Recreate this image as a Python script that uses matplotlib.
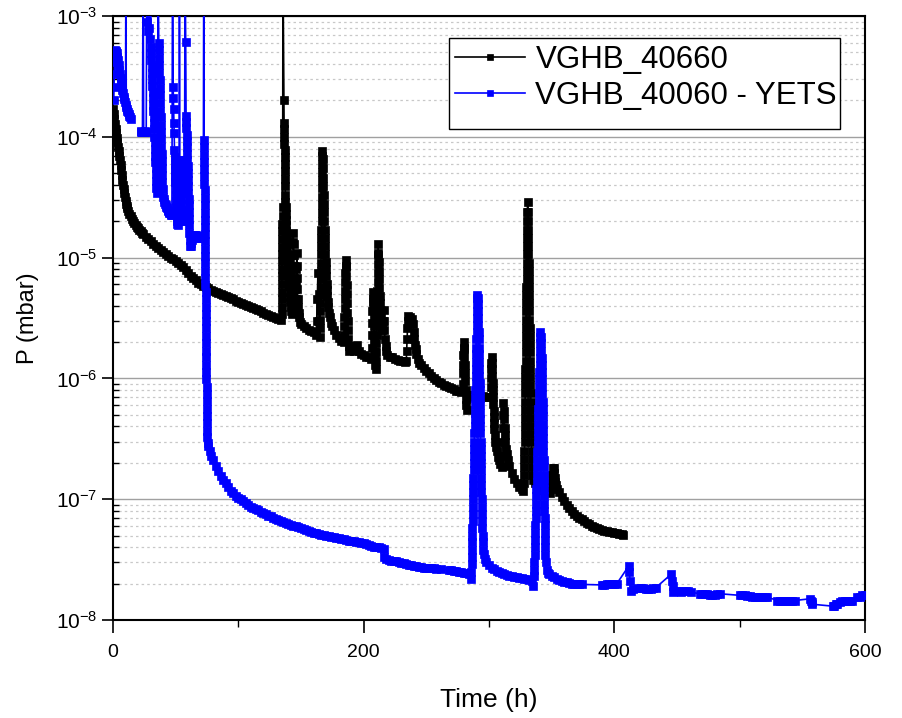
import numpy as np
import matplotlib
matplotlib.use("Agg")
import matplotlib.pyplot as plt
from matplotlib.patches import Rectangle
from matplotlib.ticker import LogLocator, FixedLocator, NullFormatter

plt.rcParams['font.family'] = ['Liberation Sans', 'DejaVu Sans']
plt.rcParams['mathtext.default'] = 'regular'

OFF = 3e-3   # readings above the plotted range (line leaves the chart)
NAN = np.nan # gap in the record

# ================= VGHB_40660 (black) =================
black_t_decay = [0, 0.5, 1, 1.5, 2, 2.5, 3, 3.5, 4, 4.5, 5, 5.5, 6, 6.5, 7, 7.5, 8, 8.5, 9, 9.5, 10, 10.5,
                 11, 11.5, 12, 13, 14, 15, 16, 17, 18, 19, 20, 21, 22, 23, 24, 26, 28, 30, 32, 34, 36, 38,
                 40, 42, 44, 46, 48, 50, 52, 54, 56, 58, 60, 62, 64, 66, 68, 70, 72, 74, 76, 78, 80, 82,
                 84, 86, 88, 90, 92, 94, 96, 98, 100, 102, 104, 106, 108, 110, 112, 114, 116, 118, 120,
                 122, 124, 126, 128, 130, 132, 134]
black_p_decay = [1.7e-4, 1.55e-4, 1.4e-4, 1.28e-4, 1.17e-4, 1.07e-4, 9.8e-5, 9e-5, 8.3e-5, 7.6e-5, 7e-5,
                 6.4e-5, 5.8e-5, 5.3e-5, 4.8e-5, 4.4e-5, 4e-5, 3.7e-5, 3.4e-5, 3.15e-5, 2.95e-5, 2.8e-5,
                 2.65e-5, 2.55e-5, 2.45e-5, 2.3e-5, 2.2e-5, 2.1e-5, 2.0e-5, 1.93e-5, 1.87e-5, 1.8e-5,
                 1.75e-5, 1.7e-5, 1.65e-5, 1.6e-5, 1.56e-5, 1.49e-5, 1.42e-5, 1.36e-5, 1.3e-5, 1.25e-5,
                 1.2e-5, 1.15e-5, 1.11e-5, 1.07e-5, 1.03e-5, 1.0e-5, 9.7e-6, 9.4e-6, 9.1e-6, 8.7e-6,
                 8.3e-6, 7.9e-6, 7.5e-6, 7.1e-6, 6.8e-6, 6.5e-6, 6.2e-6, 6.0e-6, 5.85e-6, 5.7e-6, 5.55e-6,
                 5.4e-6, 5.3e-6, 5.2e-6, 5.1e-6, 5.0e-6, 4.9e-6, 4.8e-6, 4.7e-6, 4.6e-6, 4.5e-6, 4.4e-6,
                 4.3e-6, 4.2e-6, 4.12e-6, 4.05e-6, 3.97e-6, 3.9e-6, 3.82e-6, 3.74e-6, 3.66e-6, 3.58e-6,
                 3.5e-6, 3.43e-6, 3.36e-6, 3.3e-6, 3.24e-6, 3.18e-6, 3.12e-6, 3.07e-6]

black_t_s1 = [134.50, 134.56, 134.62, 134.68, 134.74, 134.80, 134.86, 134.92, 134.98, 135.04, 135.10, 135.16,
              135.22, 135.28, 135.34, 135.6,
              136.3, 136.5, 136.6, 136.7, 136.8, 136.9, 137.0, 137.1, 137.2, 137.3, 137.4, 137.5,
              137.6, 137.75, 137.9, 138.05, 138.2, 138.4, 138.6, 138.8, 139.0, 139.2, 139.4, 139.6, 139.8,
              140.0, 140.3, 140.6, 140.9, 141.2, 141.5, 141.8, 142.2, 142.6,
              142.9, 143.1, 143.3, 143.5, 143.7, 143.9, 144.1, 144.3, 144.5, 144.7, 144.9, 145.1, 145.4,
              145.7, 146.0, 146.2, 146.4, 146.6, 146.8, 147.0, 147.2, 147.5, 147.8, 148.1, 148.5, 149,
              150, 152, 154, 156, 158, 160, 162]
black_p_s1 = [3.4e-6, 3.9e-6, 4.5e-6, 5.2e-6, 6e-6, 7e-6, 8e-6, 9.3e-6, 1.07e-5, 1.23e-5, 1.42e-5, 1.65e-5,
              1.9e-5, 2.2e-5, 2.6e-5, OFF,
              2e-4, 1.3e-4, 1.15e-4, 1.0e-4, 8.8e-5, 7.8e-5, 6.8e-5, 6e-5, 5.2e-5, 4.5e-5, 3.9e-5, 3.3e-5,
              2.9e-5, 2.6e-5, 2.3e-5, 2.05e-5, 1.85e-5, 1.65e-5, 1.5e-5, 1.35e-5, 1.2e-5, 1.08e-5, 9.8e-6,
              8.8e-6, 8e-6, 7.2e-6, 6.4e-6, 5.8e-6, 5.2e-6, 4.7e-6, 4.3e-6, 3.9e-6, 3.6e-6, 3.4e-6,
              4.5e-6, 6e-6, 8e-6, 1.05e-5, 1.35e-5, 1.6e-5, 1.3e-5, 1.05e-5, 8.5e-6, 6.8e-6, 5.5e-6, 4.5e-6,
              3.8e-6, 3.5e-6, 4.5e-6, 6e-6, 8e-6, 1.1e-5, 8.5e-6, 6.8e-6, 5.5e-6, 4.5e-6, 3.9e-6, 3.5e-6,
              3.2e-6, 2.95e-6, 2.8e-6, 2.7e-6, 2.6e-6, 2.5e-6, 2.45e-6, 2.4e-6, 2.3e-6]

black_t_s2 = [162.5, 163, 163.5, 164, 164.5,
              165.0, 165.1, 165.2, 165.3, 165.4, 165.5, 165.6, 165.7, 165.8, 165.9, 166.0, 166.1, 166.2,
              166.3, 166.4, 166.5, 166.6, 166.7, 166.8, 166.85, 166.9, 166.95, 167.0, 167.1,
              167.3, 167.5, 167.7, 167.9, 168.1, 168.3, 168.5, 168.7, 168.9, 169.1, 169.3, 169.5, 169.7,
              169.9, 170.1, 170.4, 170.7, 171.0, 171.4, 171.8, 172.3, 173, 174, 175, 176, 178, 180, 182, 184,
              184.2, 184.4, 184.6, 184.8, 185.0, 185.15, 185.3, 185.45, 185.6, 185.75, 185.95, 186.15, 186.35,
              186.55, 186.75, 186.95, 187.15, 187.4, 187.7, 188, 188.5, 190, 192, 194, 195, 196, 198, 200,
              202, 204, 206]
black_p_s2 = [3e-6, 4.5e-6, 7.5e-6, 5e-6, 3e-6,
              2.2e-6, 2.6e-6, 3.05e-6, 3.6e-6, 4.2e-6, 4.9e-6, 5.7e-6, 6.7e-6, 7.8e-6, 9.1e-6, 1.07e-5,
              1.25e-5, 1.46e-5, 1.7e-5, 2e-5, 2.35e-5, 2.75e-5, 3.2e-5, 3.75e-5, 4.4e-5, 5.1e-5, 6e-5,
              7e-5, 7.7e-5,
              6.5e-5, 5.5e-5, 4.6e-5, 3.9e-5, 3.3e-5, 2.8e-5, 2.4e-5, 2e-5, 1.7e-5, 1.45e-5, 1.25e-5,
              1.07e-5, 9.2e-6, 8e-6, 7e-6, 6.1e-6, 5.4e-6, 4.8e-6, 4.3e-6, 3.9e-6, 3.5e-6, 3.2e-6, 2.9e-6,
              2.7e-6, 2.5e-6, 2.3e-6, 2.15e-6, 2.05e-6, 2e-6,
              2.3e-6, 2.7e-6, 3.2e-6, 3.8e-6, 4.5e-6, 5.3e-6, 6.3e-6, 7.5e-6, 8.6e-6, 9.5e-6, 8.3e-6, 7e-6,
              5.9e-6, 5e-6, 4.2e-6, 3.5e-6, 3e-6, 2.5e-6, 2.1e-6, 1.85e-6, 1.7e-6, 1.75e-6, 1.7e-6, 1.85e-6,
              1.9e-6, 1.7e-6, 1.6e-6, 1.55e-6, 1.5e-6, 1.5e-6, 1.45e-6]

black_t_s3 = [206.3, 206.5, 206.7, 206.9, 207.1, 207.3, 207.5, 207.7, 207.9, 208.1, 208.3, 208.5, 208.7, 208.9,
              209.2, 209.5, 209.7, 209.9, 210.1, 210.3, 210.45, 210.6, 210.75, 210.9, 211.0, 211.1, 211.2,
              211.3, 211.4, 211.5, 211.7, 211.9, 212.1, 212.3, 212.5, 212.7, 212.9, 213.2, 213.6, 214,
              214.5, 215, 215.5, 216, 216.3, 216.6, 217, 217.5, 218, 219, 221, 223, 225, 227, 229, 231, 233,
              234, 234.3, 234.6, 234.9, 235.2, 235.5, 237, 238.5, 239.3, 240, 240.5, 241, 241.5, 242, 243,
              244, 246, 248, 250, 252, 254, 256, 258, 260, 262, 264, 266, 268, 270, 272, 274, 276, 278]
black_p_s3 = [1.8e-6, 2.3e-6, 2.9e-6, 3.6e-6, 4.4e-6, 5.2e-6, 4.5e-6, 3.8e-6, 3.2e-6, 2.7e-6, 2.3e-6, 2e-6,
              1.7e-6, 1.5e-6, 1.3e-6, 1.2e-6, 1.4e-6, 1.65e-6, 1.95e-6, 2.3e-6, 2.7e-6, 3.2e-6, 3.8e-6,
              4.5e-6, 5.3e-6, 6.3e-6, 7.5e-6, 8.9e-6, 1.06e-5, 1.3e-5, 1.1e-5, 9.2e-6, 7.8e-6, 6.6e-6,
              5.6e-6, 4.8e-6, 4.2e-6, 3.7e-6, 3.2e-6, 2.9e-6, 2.6e-6, 2.5e-6, 3e-6, 3.7e-6, 3e-6, 2.5e-6,
              2.1e-6, 1.85e-6, 1.7e-6, 1.55e-6, 1.5e-6, 1.5e-6, 1.45e-6, 1.42e-6, 1.4e-6, 1.4e-6, 1.38e-6,
              1.4e-6, 1.7e-6, 2.1e-6, 2.6e-6, 3e-6, 3.3e-6, 3.2e-6, 3.1e-6, 2.8e-6, 2.4e-6, 2.1e-6, 1.9e-6,
              1.75e-6, 1.6e-6, 1.45e-6, 1.35e-6, 1.28e-6, 1.22e-6, 1.16e-6, 1.1e-6, 1.05e-6, 1.0e-6,
              9.7e-7, 9.4e-7, 9.1e-7, 8.9e-7, 8.7e-7, 8.5e-7, 8.3e-7, 8.1e-7, 7.9e-7, 7.8e-7, 7.7e-7]

black_t_s4 = [279.0, 279.2, 279.4, 279.6, 279.8, 280, 280.2, 280.4, 280.6, 280.8, 281, 281.3, 281.6, 282,
              282.5, 283, 285, 287, 289, 291, 293, 295, 297, 299, 301, 301.2, 301.4, 301.6, 301.8, 302,
              302.2, 302.4, 302.6, 302.8, 303, 303.2, 303.4, 303.6, 303.8, 304, 304.3, 304.6, 305, 305.5,
              306, 307, 308, 309, 310, 310.3, 310.6, 310.9, 311.2, 311.5, 311.8, 312.1, 312.4, 312.7, 313,
              313.5, 314, 315, 316, 318, 320, 322, 324, 326, 327.5]
black_p_s4 = [9e-7, 1.1e-6, 1.3e-6, 1.55e-6, 1.8e-6, 2e-6, 1.75e-6, 1.5e-6, 1.3e-6, 1.1e-6, 9.5e-7, 8e-7,
              6.8e-7, 6e-7, 5.5e-7, 7e-7, 7.3e-7, 7.3e-7, 7.2e-7, 7.2e-7, 7.1e-7, 7.1e-7, 7e-7, 7e-7, 7e-7,
              8.5e-7, 1e-6, 1.2e-6, 1.35e-6, 1.5e-6, 1.35e-6, 1.2e-6, 1.05e-6, 9.2e-7, 8e-7, 7e-7, 6.1e-7,
              5.4e-7, 4.8e-7, 4.3e-7, 3.8e-7, 3.4e-7, 3e-7, 2.7e-7, 2.5e-7, 2.25e-7, 2.1e-7, 1.95e-7,
              1.85e-7, 2.3e-7, 3e-7, 3.9e-7, 5e-7, 6.3e-7, 5.4e-7, 4.6e-7, 3.9e-7, 3.4e-7, 3e-7, 2.6e-7,
              2.35e-7, 2.1e-7, 1.9e-7, 1.65e-7, 1.47e-7, 1.35e-7, 1.27e-7, 1.21e-7, 1.18e-7]

black_t_s5 = [328.0, 328.08, 328.16, 328.24, 328.32, 328.4, 328.48, 328.56, 328.64, 328.72, 328.8, 328.88,
              328.96, 329.04, 329.12, 329.2, 329.28, 329.36, 329.44, 329.52, 329.6, 329.68, 329.76, 329.84,
              329.92, 330.0, 330.08, 330.16, 330.24, 330.32, 330.4, 330.5, 330.6, 330.7, 330.8,
              331.0, 331.1, 331.2, 331.3, 331.4, 331.5, 331.6, 331.7, 331.8, 331.9, 332.0, 332.1, 332.2,
              332.3, 332.4, 332.5, 332.6, 332.7, 332.8, 332.9, 333.0, 333.1, 333.2, 333.3, 333.4, 333.5,
              333.6, 333.7, 333.8, 333.95, 334.1, 334.3, 334.6,
              335.5, 337, 339, 341, 343, 345, 347, 349, 349.5, 350, 350.5, 351, 351.5, 352, 352.5, 353,
              353.5, 354.5, 356, 358, 360, 362, 364, 366, 368, 370, 372, 374, 376, 378, 380, 382, 384, 386,
              388, 390, 392, 394, 396, 398, 400, 402, 404, 406, 407]
black_p_s5 = [1.35e-7, 1.58e-7, 1.85e-7, 2.15e-7, 2.5e-7, 2.95e-7, 3.45e-7, 4e-7, 4.7e-7, 5.5e-7, 6.4e-7,
              7.5e-7, 8.8e-7, 1.03e-6, 1.2e-6, 1.4e-6, 1.65e-6, 1.92e-6, 2.25e-6, 2.6e-6, 3.05e-6, 3.6e-6,
              4.2e-6, 4.9e-6, 5.7e-6, 6.7e-6, 7.8e-6, 9.1e-6, 1.07e-5, 1.25e-5, 1.46e-5, 1.7e-5, 2e-5,
              2.4e-5, 2.9e-5,
              2.4e-5, 2e-5, 1.7e-5, 1.46e-5, 1.25e-5, 1.07e-5, 9.1e-6, 7.8e-6, 6.7e-6, 5.7e-6, 4.9e-6,
              4.2e-6, 3.6e-6, 3.05e-6, 2.6e-6, 2.25e-6, 1.92e-6, 1.65e-6, 1.4e-6, 1.2e-6, 1.03e-6, 8.8e-7,
              7.5e-7, 6.4e-7, 5.5e-7, 4.7e-7, 4e-7, 3.45e-7, 2.95e-7, 2.5e-7, 2.15e-7, 1.85e-7, 1.58e-7,
              1.45e-7, 1.35e-7, 1.28e-7, 1.24e-7, 1.2e-7, 1.17e-7, 1.15e-7, 1.13e-7, 1.25e-7, 1.4e-7,
              1.6e-7, 1.8e-7, 1.8e-7, 1.65e-7, 1.5e-7, 1.4e-7, 1.3e-7, 1.22e-7, 1.15e-7, 1.05e-7, 9.6e-8,
              8.9e-8, 8.4e-8, 8e-8, 7.6e-8, 7.3e-8, 7e-8, 6.8e-8, 6.6e-8, 6.4e-8, 6.2e-8, 6.05e-8, 5.9e-8,
              5.8e-8, 5.7e-8, 5.6e-8, 5.5e-8, 5.45e-8, 5.4e-8, 5.35e-8, 5.3e-8, 5.25e-8, 5.2e-8, 5.15e-8,
              5.1e-8]

# ================= VGHB_40060 - YETS (blue) =================
blue_t_start = [0.6, 0.8, 1.0, 1.2, 1.4, 2, 2.5, 3, 3.5, 4, 4.5, 5, 5.5, 6, 6.5, 7, 7.5, 8, 8.5, 9, 9.5, 10,
                10.3, 10.6, 11, 11.5, 12, 12.5, 13, 13.5, 14, 15]
blue_p_start = [2e-4, 2.6e-4, 3.3e-4, 4.2e-4, 5.2e-4, 5.1e-4, 5e-4, 4.9e-4, 4.6e-4, 4.3e-4, 3.9e-4, 3.6e-4,
                3.3e-4, 3.05e-4, 2.8e-4, 2.6e-4, 2.45e-4, 2.3e-4, 2.15e-4, 2.05e-4, 1.95e-4, 1.85e-4, OFF,
                1.75e-4, 1.7e-4, 1.65e-4, 1.6e-4, 1.55e-4, 1.5e-4, 1.45e-4, 1.4e-4, NAN]

blue_t_burst_a = [22, 22.5, 23, 23.5, 24, 24.5, 25, 25.5, 26, 26.5, 27, 27.5, 28, 28.5, 29, 29.5, 30]
blue_p_burst_a = [1.12e-4, 1.1e-4, 1.1e-4, 1.1e-4, OFF, 1.1e-4, 1.1e-4, 1.12e-4, 1.1e-4, 1.1e-4, OFF, 9e-4,
                  7.5e-4, OFF, 8e-4, 6.5e-4, OFF]

blue_t_burst_b = [30.3, 30.5, 30.7, 30.9, 31.1, 31.3, 31.5, 31.7, 31.9, 32.1, 32.3, 32.5, 32.7, 32.9, 33.1,
                  33.3, 33.5, 33.7, 33.9, 34.1, 34.3, 34.5, 34.7, 35.0, 35.5, 36.0]
blue_p_burst_b = [5.5e-4, 4.9e-4, 4.3e-4, 3.8e-4, 3.4e-4, 3e-4, 2.65e-4, 2.35e-4, 2.1e-4, 1.85e-4, 1.65e-4,
                  1.45e-4, 1.3e-4, 1.15e-4, 1e-4, 9e-5, 8e-5, 7e-5, 6.2e-5, 5.5e-5, 4.9e-5, 4.3e-5, 3.8e-5,
                  3.4e-5, 1.2e-4, OFF]

blue_t_burst_c = [36.5, 36.65, 36.8, 36.95, 37.1, 37.25, 37.4, 37.55, 37.7, 37.85, 38.0, 38.15, 38.3, 38.45,
                  38.6, 38.75, 38.9, 39.05, 39.2, 39.4, 39.7, 40.0, 40.5, 41, 41.5, 42, 42.5, 43, 43.5, 44,
                  44.5, 45, 45.5, 46, 46.5, 47, 47.5]
blue_p_burst_c = [6e-4, 5.2e-4, 4.5e-4, 3.9e-4, 3.4e-4, 2.95e-4, 2.55e-4, 2.2e-4, 1.9e-4, 1.65e-4, 1.45e-4,
                  1.25e-4, 1.1e-4, 9.5e-5, 8.3e-5, 7.2e-5, 6.3e-5, 5.5e-5, 4.8e-5, 4.2e-5, 3.7e-5, 3.2e-5,
                  3.05e-5, 2.9e-5, 2.8e-5, 2.7e-5, 2.62e-5, 2.55e-5, 2.5e-5, 2.45e-5, 2.4e-5, 2.35e-5,
                  2.32e-5, 2.3e-5, 2.27e-5, 2.25e-5, OFF]

blue_t_burst_d = [48.0, 48.2, 48.4, 48.6, 48.8, 49.0, 49.15, 49.3, 49.45, 49.6, 49.75, 49.9, 50.05, 50.2,
                  50.4, 50.6, 50.8, 51.0, 51.3, 51.6,
                  51.9, 52.0, 52.1, 52.2, 52.35, 52.5, 52.65, 52.8, 53.0,
                  53.3, 53.45, 53.6, 53.75, 53.9, 54.05, 54.2, 54.4, 54.6, 54.8, 55.2, 55.6, 56.2, 57, 57.5]
blue_p_burst_d = [2.6e-4, 2.1e-4, 1.7e-4, 1.3e-4, 1.07e-4, 7.8e-5, 6.8e-5, 6e-5, 5.3e-5, 4.7e-5, 4.2e-5,
                  3.7e-5, 3.3e-5, 2.95e-5, 2.6e-5, 2.35e-5, 2.15e-5, 2e-5, 1.9e-5, 1.85e-5,
                  2.1e-5, 2.5e-5, 2.9e-5, 3.4e-5, 4e-5, 4.7e-5, 5.5e-5, 6.4e-5, OFF,
                  6.4e-5, 5.6e-5, 5e-5, 4.4e-5, 3.9e-5, 3.5e-5, 3.1e-5, 2.8e-5, 2.5e-5, 2.3e-5, 2.15e-5,
                  2.05e-5, 2e-5, 2e-5, OFF]

blue_t_burst_e = [58.0, 58.3, 58.45, 58.6, 58.75, 58.9, 59.05, 59.2, 59.35, 59.5, 59.65, 59.8, 59.95, 60.1,
                  60.25, 60.4, 60.55, 60.7, 60.85, 61.0, 61.2, 61.5,
                  62, 62.5, 63, 63.5, 64, 64.5, 65, 65.5, 66, 66.5, 67, 67.5, 68, 68.5, 69, 69.5, 70, 70.5,
                  71, 71.5, 72, 72.4]
blue_p_burst_e = [6.1e-4, 1.5e-4, 1.33e-4, 1.18e-4, 1.04e-4, 9.2e-5, 8.2e-5, 7.2e-5, 6.4e-5, 5.7e-5, 5e-5,
                  4.4e-5, 3.9e-5, 3.45e-5, 3.05e-5, 2.7e-5, 2.4e-5, 2.1e-5, 1.85e-5, 1.6e-5, 1.4e-5, 1.25e-5,
                  1.25e-5, 1.32e-5, 1.4e-5, 1.45e-5, 1.5e-5, 1.52e-5, 1.55e-5, 1.55e-5, 1.55e-5, 1.52e-5,
                  1.5e-5, 1.5e-5, 1.5e-5, 1.48e-5, 1.45e-5, 1.45e-5, 1.45e-5, 1.45e-5, 1.45e-5, 1.45e-5,
                  1.45e-5, OFF]

blue_t_drop = [72.60, 72.66, 72.72, 72.78, 72.84, 72.90, 72.96, 73.02, 73.08, 73.14, 73.20, 73.26, 73.32,
               73.38, 73.44, 73.50, 73.56, 73.62, 73.68, 73.74, 73.80, 73.86, 73.92, 73.98, 74.04, 74.10,
               74.16, 74.22, 74.28, 74.34, 74.40, 74.46, 74.52, 74.58, 74.64, 74.70, 74.78, 74.86, 74.94,
               75.02, 75.12, 75.24, 75.4,
               76, 77, 78, 80, 82, 84, 86, 88, 90, 92, 94,
               96, 98, 100, 102, 104, 106, 108, 110, 112, 114, 116, 118, 120, 122, 124, 126, 128, 130, 132,
               134, 136, 138, 140, 142, 144, 146, 148, 150, 152, 154, 156, 158, 160, 162, 164, 166, 168,
               170, 172, 174, 176, 178, 180, 182, 184, 186, 188, 190, 192, 194, 196, 198, 200, 202, 204,
               206, 208, 210, 212, 214, 216, 216.5, 218, 220, 222, 224, 226, 228, 230, 232, 234, 236, 238,
               240, 242, 244, 246, 248, 250, 252, 254, 256, 258, 262, 268, 270, 272, 274, 276, 278, 280,
               282, 284, 285.5]
blue_p_drop = [9.4e-5, 8.2e-5, 7.1e-5, 6.2e-5, 5.4e-5, 4.7e-5, 4.1e-5, 3.6e-5, 3.1e-5, 2.7e-5, 2.35e-5,
               2.05e-5, 1.8e-5, 1.56e-5, 1.36e-5, 1.18e-5, 1.03e-5, 9e-6, 7.8e-6, 6.8e-6, 5.9e-6, 5.2e-6,
               4.5e-6, 3.9e-6, 3.4e-6, 3e-6, 2.6e-6, 2.25e-6, 1.96e-6, 1.7e-6, 1.5e-6, 1.3e-6, 1.13e-6,
               9.8e-7, 8.5e-7, 7.4e-7, 6.5e-7, 5.6e-7, 4.9e-7, 4.3e-7, 3.7e-7, 3.3e-7, 2.9e-7,
               2.75e-7, 2.5e-7, 2.3e-7, 2.1e-7, 1.9e-7, 1.7e-7, 1.55e-7, 1.45e-7, 1.35e-7, 1.25e-7,
               1.17e-7, 1.12e-7, 1.07e-7, 1.03e-7, 1e-7, 9.7e-8, 9.3e-8, 9e-8, 8.7e-8, 8.5e-8, 8.3e-8,
               8.1e-8, 7.9e-8, 7.7e-8, 7.5e-8, 7.3e-8, 7.2e-8, 7.05e-8, 6.9e-8, 6.75e-8, 6.6e-8, 6.5e-8,
               6.4e-8, 6.25e-8, 6.15e-8, 6.05e-8, 5.95e-8, 5.85e-8, 5.75e-8, 5.65e-8, 5.55e-8, 5.45e-8,
               5.4e-8, 5.3e-8, 5.25e-8, 5.15e-8, 5.1e-8, 5.05e-8, 5e-8, 4.95e-8, 4.9e-8, 4.85e-8, 4.8e-8,
               4.75e-8, 4.7e-8, 4.65e-8, 4.6e-8, 4.55e-8, 4.5e-8, 4.47e-8, 4.43e-8, 4.4e-8, 4.38e-8,
               4.35e-8, 4.25e-8, 4.15e-8, 4.1e-8, 4.05e-8, 4.0e-8, 4.0e-8, 3.95e-8, 3.9e-8, 3.3e-8, 3.2e-8,
               3.15e-8, 3.1e-8, 3.1e-8, 3.05e-8, 3.0e-8, 2.98e-8, 2.95e-8, 2.9e-8, 2.87e-8, 2.84e-8, 2.8e-8,
               2.78e-8, 2.75e-8, 2.73e-8, 2.71e-8, 2.7e-8, 2.69e-8, 2.68e-8, 2.67e-8, 2.66e-8, 2.64e-8,
               2.6e-8, 2.58e-8, 2.55e-8, 2.53e-8, 2.5e-8, 2.48e-8, 2.46e-8, 2.44e-8, 2.4e-8, 2.2e-8]

blue_t_peak1 = [286.0, 286.12, 286.25, 286.37, 286.5, 286.62, 286.75, 286.87, 287.0, 287.12, 287.25, 287.37,
                287.5, 287.62, 287.75, 287.87, 288.0, 288.12, 288.25, 288.37, 288.5, 288.62, 288.75, 288.87,
                289.0, 289.12, 289.25, 289.37, 289.5, 289.62, 289.75, 289.87, 290.0, 290.12, 290.25, 290.37,
                290.5, 290.62, 290.72, 290.82,
                291.0, 291.15, 291.3, 291.45, 291.6, 291.75, 291.9, 292.0, 292.1, 292.2, 292.3, 292.4, 292.5,
                292.6, 292.7, 292.8, 292.9, 293.0, 293.1, 293.2, 293.3, 293.4, 293.5, 293.6, 293.7, 293.8,
                293.9, 294.0, 294.1, 294.2, 294.35, 294.5, 294.7, 294.9, 295.2, 295.6,
                296, 297, 298, 300, 302, 304, 306, 308, 310, 312, 314, 316, 318, 320, 322, 324, 326, 328,
                330, 332, 334, 335.5]
blue_p_peak1 = [2.5e-8, 2.9e-8, 3.3e-8, 3.8e-8, 4.4e-8, 5e-8, 5.8e-8, 6.6e-8, 7.6e-8, 8.7e-8, 1e-7, 1.15e-7,
                1.32e-7, 1.5e-7, 1.75e-7, 2e-7, 2.3e-7, 2.6e-7, 3e-7, 3.5e-7, 4e-7, 4.6e-7, 5.2e-7, 6e-7,
                6.9e-7, 8e-7, 9.1e-7, 1.05e-6, 1.2e-6, 1.38e-6, 1.58e-6, 1.8e-6, 2.1e-6, 2.4e-6, 2.75e-6,
                3.15e-6, 3.6e-6, 4.1e-6, 4.6e-6, 4.9e-6,
                4.6e-6, 4.1e-6, 3.6e-6, 3.15e-6, 2.75e-6, 2.4e-6, 2.1e-6, 1.8e-6, 1.58e-6, 1.38e-6, 1.2e-6,
                1.05e-6, 9.1e-7, 8e-7, 6.9e-7, 6e-7, 5.2e-7, 4.6e-7, 4e-7, 3.5e-7, 3e-7, 2.6e-7, 2.3e-7, 2e-7,
                1.75e-7, 1.5e-7, 1.32e-7, 1.15e-7, 1e-7, 8.7e-8, 7.6e-8, 6.6e-8, 5.8e-8, 5e-8, 4.4e-8, 3.8e-8,
                3.5e-8, 3.2e-8, 3e-8, 2.85e-8, 2.72e-8, 2.62e-8, 2.55e-8, 2.5e-8, 2.45e-8, 2.4e-8, 2.37e-8,
                2.33e-8, 2.3e-8, 2.27e-8, 2.25e-8, 2.23e-8, 2.21e-8, 2.2e-8, 2.18e-8, 2.15e-8, 2.1e-8, 1.9e-8]

blue_t_peak2 = [336.0, 336.15, 336.3, 336.45, 336.6, 336.75, 336.9, 337.05, 337.2, 337.35, 337.5, 337.65,
                337.8, 337.95, 338.1, 338.25, 338.4, 338.55, 338.7, 338.85, 339.0, 339.15, 339.3, 339.45,
                339.6, 339.75, 339.9, 340.05, 340.2, 340.35, 340.5, 340.6, 340.7, 340.8, 341.0,
                341.3, 341.5, 341.7, 341.9, 342.05, 342.2, 342.35, 342.5, 342.6, 342.7, 342.8, 342.9, 343.0,
                343.1, 343.2, 343.3, 343.4, 343.5, 343.6, 343.7, 343.8, 343.9, 344.0, 344.1, 344.2, 344.3,
                344.4, 344.55, 344.7, 344.85, 345.0, 345.3,
                346, 347, 348, 350, 352, 354, 356, 358, 360, 362, 364, 366, 368, 370, 372, 374]
blue_p_peak2 = [2.3e-8, 2.6e-8, 3e-8, 3.45e-8, 4e-8, 4.6e-8, 5.3e-8, 6.1e-8, 7e-8, 8e-8, 9.2e-8, 1.06e-7,
                1.22e-7, 1.4e-7, 1.6e-7, 1.85e-7, 2.1e-7, 2.45e-7, 2.8e-7, 3.2e-7, 3.7e-7, 4.2e-7, 4.9e-7,
                5.6e-7, 6.4e-7, 7.4e-7, 8.5e-7, 9.8e-7, 1.12e-6, 1.3e-6, 1.48e-6, 1.7e-6, 1.95e-6, 2.2e-6,
                2.4e-6,
                2.2e-6, 1.95e-6, 1.7e-6, 1.48e-6, 1.3e-6, 1.12e-6, 9.8e-7, 8.5e-7, 7.4e-7, 6.4e-7, 5.6e-7,
                4.9e-7, 4.2e-7, 3.7e-7, 3.2e-7, 2.8e-7, 2.45e-7, 2.1e-7, 1.85e-7, 1.6e-7, 1.4e-7, 1.22e-7,
                1.06e-7, 9.2e-8, 8e-8, 7e-8, 6.1e-8, 5.3e-8, 4.6e-8, 4e-8, 3.45e-8, 3e-8,
                2.6e-8, 2.45e-8, 2.4e-8, 2.3e-8, 2.25e-8, 2.2e-8, 2.15e-8, 2.1e-8, 2.08e-8, 2.05e-8, 2.02e-8,
                2e-8, 2e-8, 2e-8, 1.98e-8, 1.97e-8]

blue_t_late = [390, 392, 394, 396, 398, 400, 402, 411.5, 412, 412.5, 413, 415, 419, 421, 423, 425, 427, 429,
               431, 433, 445.5, 446, 446.5, 447, 449, 451, 453, 455, 457, 459, 461, 468, 470, 472, 474, 476,
               478, 480, 482, 484, 500, 502, 504, 506, 508, 510, 512, 514, 516, 518, 520, 522, 530, 532, 534,
               536, 538, 540, 542, 544, 556.5, 557, 557.5, 558, 574.5, 575, 576.5, 578, 580, 582, 584, 586,
               588, 590, 594, 596, 598, 600]
blue_p_late = [1.95e-8, 1.95e-8, 1.97e-8, 2e-8, 2e-8, 2e-8, 2e-8, 2.8e-8, 2.5e-8, 2.1e-8, 1.75e-8, 1.8e-8,
               1.85e-8, 1.85e-8, 1.85e-8, 1.82e-8, 1.8e-8, 1.8e-8, 1.85e-8, 1.85e-8, 2.4e-8, 2.1e-8, 1.9e-8,
               1.72e-8, 1.75e-8, 1.75e-8, 1.72e-8, 1.75e-8, 1.75e-8, 1.75e-8, 1.7e-8, 1.65e-8, 1.65e-8,
               1.65e-8, 1.63e-8, 1.62e-8, 1.6e-8, 1.62e-8, 1.65e-8, 1.65e-8, 1.6e-8, 1.6e-8, 1.6e-8, 1.58e-8,
               1.57e-8, 1.56e-8, 1.55e-8, 1.55e-8, 1.55e-8, 1.55e-8, 1.55e-8, 1.55e-8, 1.45e-8, 1.45e-8,
               1.45e-8, 1.45e-8, 1.45e-8, 1.45e-8, 1.45e-8, 1.45e-8, 1.5e-8, 1.45e-8, 1.4e-8, 1.35e-8,
               1.3e-8, 1.3e-8, 1.35e-8, 1.35e-8, 1.42e-8, 1.45e-8, 1.45e-8, 1.45e-8, 1.45e-8, 1.45e-8,
               1.55e-8, 1.55e-8, 1.6e-8, 1.6e-8]

series_labels = ['VGHB_40660', 'VGHB_40060 - YETS']
x_ticks = [0, 200, 400, 600]
x_minor = [100, 300, 500]
y_ticks = [1e-8, 1e-7, 1e-6, 1e-5, 1e-4, 1e-3]
y_ticklabels = ['$10^{-8}$', '$10^{-7}$', '$10^{-6}$', '$10^{-5}$', '$10^{-4}$', '$10^{-3}$']

black_t = np.concatenate([black_t_decay, black_t_s1, black_t_s2, black_t_s3, black_t_s4, black_t_s5])
black_p = np.concatenate([black_p_decay, black_p_s1, black_p_s2, black_p_s3, black_p_s4, black_p_s5])
blue_t = np.concatenate([blue_t_start, blue_t_burst_a, blue_t_burst_b, blue_t_burst_c, blue_t_burst_d,
                         blue_t_burst_e, blue_t_drop, blue_t_peak1, blue_t_peak2, blue_t_late])
blue_p = np.concatenate([blue_p_start, blue_p_burst_a, blue_p_burst_b, blue_p_burst_c, blue_p_burst_d,
                         blue_p_burst_e, blue_p_drop, blue_p_peak1, blue_p_peak2, blue_p_late])

fig = plt.figure(figsize=(9.03, 7.18), dpi=100)
ax = fig.add_axes([113/903, 1 - 620/718, (865-113)/903, (620-16)/718])

ax.plot(black_t, black_p, color='black', lw=1.2, marker='s', ms=6, mec='black', mfc='black', mew=0.5,
        label=series_labels[0], zorder=3)
ax.plot(blue_t, blue_p, color='#0000ff', lw=1.2, marker='s', ms=6, mec='#0000ff', mfc='#0000ff', mew=0.5,
        label=series_labels[1], zorder=3)

ax.set_yscale('log')
ax.set_xlim(0, 600)
ax.set_ylim(1e-8, 1e-3)

ax.set_yticks(y_ticks)
ax.set_yticklabels(y_ticklabels, fontsize=15)
ax.yaxis.set_minor_locator(LogLocator(base=10, subs=np.arange(2, 10), numticks=20))
ax.yaxis.set_minor_formatter(NullFormatter())

ax.set_xticks(x_ticks)
ax.set_xticklabels([str(v) for v in x_ticks], fontsize=14)
ax.xaxis.set_minor_locator(FixedLocator(x_minor))

ax.tick_params(axis='y', which='major', direction='out', length=8, width=1.2, pad=3)
ax.tick_params(axis='y', which='minor', direction='in', length=4, width=1.0)
ax.tick_params(axis='x', which='major', direction='out', length=9, width=1.2, pad=8)
ax.tick_params(axis='x', which='minor', direction='out', length=5, width=1.0)

ax.grid(True, which='major', axis='y', color='#a0a0a0', lw=1.0, ls='-', zorder=0)
ax.grid(True, which='minor', axis='y', color='#c8c8c8', lw=0.9, ls=(0, (2, 2.5)), zorder=0)
ax.set_axisbelow(True)

for s in ax.spines.values():
    s.set_linewidth(1.5)

ax.set_xlabel('Time (h)', fontsize=19, labelpad=20)
ax.set_ylabel('P (mbar)', fontsize=17, labelpad=12)

# legend frame drawn separately so that its padding matches the reference box
frame = Rectangle(((449 - 113) / 752, (620 - 129) / 604), 391 / 752, 91 / 604, transform=ax.transAxes,
                  facecolor='white', edgecolor='black', lw=1.0, zorder=4.5)
ax.add_patch(frame)
leg = ax.legend(loc='upper right', bbox_to_anchor=((837 - 113) / 752, (620 - 45) / 604), fontsize=22.5,
                frameon=False, handlelength=2.25, handletextpad=0.33, borderpad=0.0, labelspacing=0.18,
                borderaxespad=0, markerscale=0.8)
leg.set_zorder(6)

fig.savefig('out.png', dpi=100)
